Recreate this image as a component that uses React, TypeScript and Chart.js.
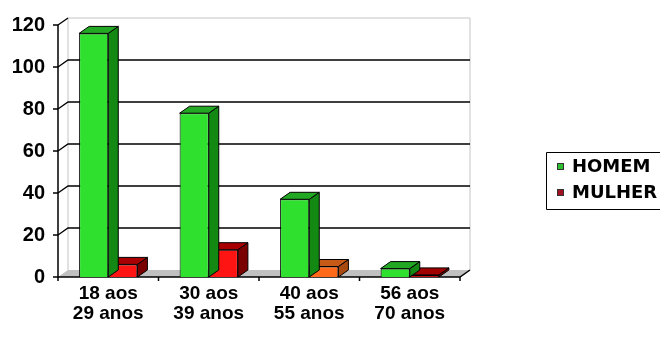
import React, { useEffect, useRef } from "react";
import { Chart, registerables } from "chart.js";

Chart.register(...registerables);

const categories = [
  ["18 aos", "29 anos"],
  ["30 aos", "39 anos"],
  ["40 aos", "55 anos"],
  ["56 aos", "70 anos"],
];
const seriesNames = ["HOMEM", "MULHER"];
const homem = [116, 78, 37, 4];
const mulher = [6, 13, 5, 1];
const yTicks = [0, 20, 40, 60, 80, 100, 120];

const homemFront = ["#2fe02f", "#2fe02f", "#2fe02f", "#2fe02f"];
const homemSide = ["#138813", "#138813", "#138813", "#138813"];
const homemTop = ["#22a822", "#22a822", "#22a822", "#22a822"];
const mulherFront = ["#ff1414", "#ff1414", "#ff6a1a", "#c01010"];
const mulherSide = ["#7a0000", "#7a0000", "#a84a10", "#7a0000"];
const mulherTop = ["#a80000", "#a80000", "#c85a18", "#a00000"];
const legendColors = ["#2fc02f", "#a01020"];

const DX = 10;
const DY = 7;

const sideColors = [homemSide, mulherSide];
const topColors = [homemTop, mulherTop];

const threeD = {
  id: "threeD",
  beforeDatasetsDraw(chart: any) {
    const { ctx, chartArea: a, scales } = chart;
    const y = scales.y;
    const L = a.left, R = a.right, B = a.bottom;
    const T = y.getPixelForValue(yTicks[yTicks.length - 1]);
    ctx.save();
    ctx.fillStyle = "#c0c0c0";
    ctx.beginPath();
    ctx.moveTo(L, B);
    ctx.lineTo(R, B);
    ctx.lineTo(R + DX, B - DY);
    ctx.lineTo(L + DX, B - DY);
    ctx.closePath();
    ctx.fill();
    ctx.strokeStyle = "#c4c4c4";
    ctx.lineWidth = 1;
    ctx.beginPath();
    ctx.moveTo(L + DX, B - DY);
    ctx.lineTo(L + DX, T - DY);
    ctx.lineTo(R + DX, T - DY);
    ctx.lineTo(R + DX, B - DY);
    ctx.stroke();
    ctx.strokeStyle = "#000";
    ctx.lineWidth = 1.3;
    for (const v of yTicks) {
      if (v === 0) continue;
      const py = y.getPixelForValue(v);
      ctx.beginPath();
      ctx.moveTo(L, py);
      ctx.lineTo(L + DX, py - DY);
      if (v !== yTicks[yTicks.length - 1]) ctx.lineTo(R + DX, py - DY);
      ctx.stroke();
    }
    ctx.lineWidth = 1.5;
    ctx.beginPath();
    ctx.moveTo(L, T);
    ctx.lineTo(L, B);
    ctx.lineTo(R, B);
    ctx.lineTo(R + DX, B - DY);
    ctx.stroke();
    for (const v of yTicks) {
      const py = y.getPixelForValue(v);
      ctx.beginPath();
      ctx.moveTo(L - 5, py);
      ctx.lineTo(L, py);
      ctx.stroke();
    }
    const n = categories.length;
    for (let i = 0; i <= n; i++) {
      const x = L + (i * (R - L)) / n;
      ctx.beginPath();
      ctx.moveTo(x, B);
      ctx.lineTo(x, B + 4);
      ctx.stroke();
    }
    ctx.restore();
  },
  afterDatasetDraw(chart: any, args: any) {
    const { ctx } = chart;
    const di = args.index;
    const meta = args.meta;
    ctx.save();
    ctx.strokeStyle = "#000";
    ctx.lineWidth = 1;
    meta.data.forEach((el: any, i: number) => {
      const p = el.getProps(["x", "y", "width", "base"], true);
      const left = p.x - p.width / 2;
      const right = p.x + p.width / 2;
      const top = p.y;
      const bottom = p.base;
      ctx.fillStyle = sideColors[di][i];
      ctx.beginPath();
      ctx.moveTo(right, top);
      ctx.lineTo(right + DX, top - DY);
      ctx.lineTo(right + DX, bottom - DY);
      ctx.lineTo(right, bottom);
      ctx.closePath();
      ctx.fill();
      ctx.stroke();
      ctx.fillStyle = topColors[di][i];
      ctx.beginPath();
      ctx.moveTo(left, top);
      ctx.lineTo(right, top);
      ctx.lineTo(right + DX, top - DY);
      ctx.lineTo(left + DX, top - DY);
      ctx.closePath();
      ctx.fill();
      ctx.stroke();
    });
    ctx.restore();
  },
  afterDraw(chart: any) {
    const { ctx } = chart;
    ctx.save();
    ctx.strokeStyle = "#000";
    ctx.lineWidth = 1;
    ctx.beginPath();
    ctx.moveTo(720, 152.5);
    ctx.lineTo(546.5, 152.5);
    ctx.lineTo(546.5, 209.5);
    ctx.lineTo(720, 209.5);
    ctx.stroke();
    ctx.font = "bold 18px 'DejaVu Sans'";
    ctx.textBaseline = "alphabetic";
    const rows = [172, 198];
    seriesNames.forEach((name, i) => {
      ctx.fillStyle = legendColors[i];
      ctx.fillRect(557, rows[i] - 9, 7, 7);
      ctx.strokeStyle = "#333";
      ctx.strokeRect(557.5, rows[i] - 8.5, 6, 6);
      ctx.fillStyle = "#000";
      ctx.fillText(name, 572, rows[i]);
    });
    ctx.restore();
  },
};

export default function App() {
  const ref = useRef<HTMLCanvasElement | null>(null);
  useEffect(() => {
    if (!ref.current) return;
    const chart = new Chart(ref.current, {
      type: "bar",
      data: {
        labels: categories,
        datasets: [
          {
            label: seriesNames[0],
            data: homem,
            backgroundColor: homemFront,
            borderColor: "#000",
            borderWidth: 1,
            barPercentage: 1,
            categoryPercentage: 0.58,
          },
          {
            label: seriesNames[1],
            data: mulher,
            backgroundColor: mulherFront,
            borderColor: "#000",
            borderWidth: 1,
            barPercentage: 1,
            categoryPercentage: 0.58,
          },
        ],
      },
      options: {
        responsive: false,
        animation: false,
        layout: { padding: { left: 0, top: 25, right: 200, bottom: 0 } },
        plugins: { legend: { display: false }, tooltip: { enabled: false } },
        scales: {
          x: {
            grid: { display: false, drawTicks: false },
            border: { display: false },
            ticks: {
              color: "#000",
              padding: 7,
              autoSkip: false,
              maxRotation: 0,
              font: { family: "'Liberation Sans', Arial, sans-serif", weight: "bold", size: 19, lineHeight: 1.05 },
            },
            afterFit: (s: any) => {
              s.height = 63;
            },
          },
          y: {
            min: 0,
            max: 120,
            grid: { display: false, drawTicks: false },
            border: { display: false },
            ticks: {
              stepSize: 20,
              color: "#000",
              padding: 13,
              font: { family: "'Liberation Sans', Arial, sans-serif", weight: "bold", size: 20 },
            },
            afterFit: (s: any) => {
              s.width = 58;
            },
          },
        },
      },
      plugins: [threeD],
    } as any);
    return () => chart.destroy();
  }, []);
  return (
    <div style={{ position: "absolute", left: 0, top: 0, width: 660, height: 340, background: "#fff" }}>
      <canvas ref={ref} width={660} height={340} style={{ display: "block" }} />
    </div>
  );
}
